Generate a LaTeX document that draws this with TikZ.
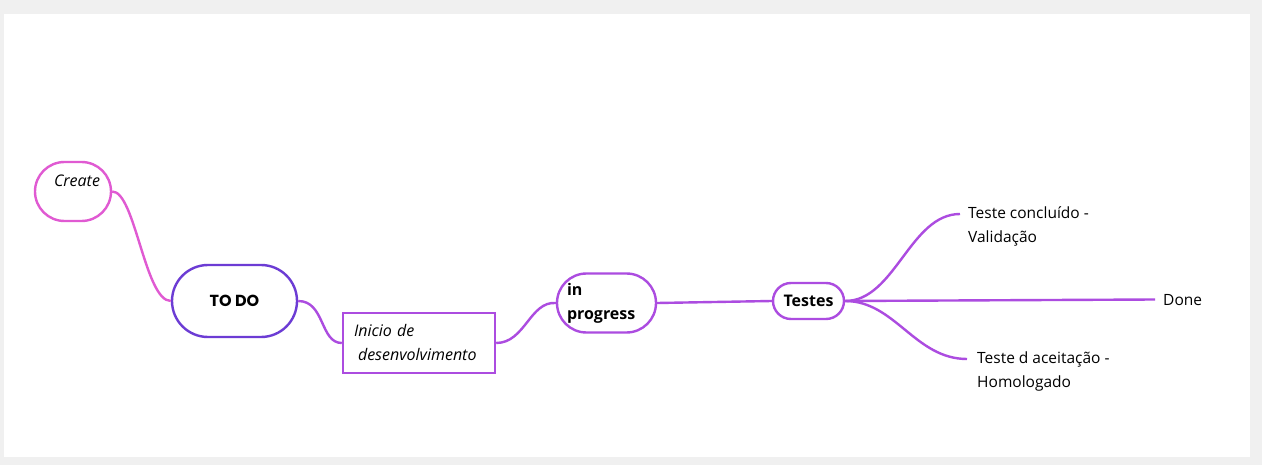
\documentclass[tikz,border=0pt]{standalone}
\usepackage{fontspec}
\setmainfont{Open Sans}
\newfontfamily\popfont{Poppins}
\definecolor{bggray}{HTML}{F0F0F0}
\definecolor{pinkc}{HTML}{E05AD2}
\definecolor{todoc}{HTML}{6C3CD4}
\definecolor{purc}{HTML}{AC4CE0}
\begin{document}
\begin{tikzpicture}[x=1pt,y=-1pt,
  pill/.style={draw=#1, line width=2.4pt, fill=white, inner sep=0pt},
  conn/.style={line width=2.4pt, purc},
  lbl/.style={font=\fontsize{15.5}{24}\selectfont, align=left, inner sep=0pt, anchor=west}]
\fill[bggray] (0,0) rectangle (1262,465);
\fill[white] (4,14) rectangle (1250,457);
\useasboundingbox (0,0) rectangle (1262,465);

\node[pill=pinkc, rounded corners=29.5pt, minimum width=76pt, minimum height=59pt] (create) at (73,191.5) {};
\node[font=\fontsize{16}{17}\selectfont\itshape, inner sep=0pt] (createtxt) at (77,181) {Create};

\node[pill=todoc, rounded corners=36pt, minimum width=125pt, minimum height=72pt, text=black,
      font=\fontsize{16}{18}\selectfont\popfont\bfseries] (todo) at (234.5,301) {TO DO};

\node[draw=purc, line width=2.4pt, fill=white, minimum width=152pt, minimum height=60pt,
      inner xsep=11pt, text width=130pt, align=left,
      font=\fontsize{16}{24}\selectfont\itshape] (inicio) at (419,343) {Inicio de\\\hspace*{4pt}desenvolvimento};

\node[pill=purc, rounded corners=29.5pt, minimum width=99pt, minimum height=59pt, inner xsep=10pt,
      text width=79pt, align=left, font=\fontsize{16}{24}\selectfont\bfseries] (prog) at (606.5,303) {in\\progress};

\node[pill=purc, rounded corners=18pt, minimum width=71pt, minimum height=36pt,
      font=\fontsize{16}{18}\selectfont\bfseries] (testes) at (808.5,301) {Testes};

\node[lbl] (t1) at (968,226) {Teste concluído -\\Validação};
\node[lbl] (done) at (1163,300) {Done};
\node[lbl] (t2) at (977,371.5) {Teste d aceitação -\\Homologado};

\coordinate (e1) at (960,214);
\coordinate (e2) at (1155,299.5);
\coordinate (e3) at (967,359);

\draw[line width=2.4pt, pinkc] (create.east) .. controls (135,191) and (145,301) .. (todo.west);
\draw[conn] (todo.east) .. controls (325,301) and (320,343) .. (inicio.west);
\draw[conn] (inicio.east) .. controls (525,343) and (530,301) .. (prog.west);
\draw[conn] (prog.east) -- (testes.west);
\draw[conn] (testes.east) .. controls (895,301) and (910,214) .. (e1);
\draw[conn] (testes.east) -- (e2);
\draw[conn] (testes.east) .. controls (895,301) and (915,359) .. (e3);
\end{tikzpicture}
\end{document}
